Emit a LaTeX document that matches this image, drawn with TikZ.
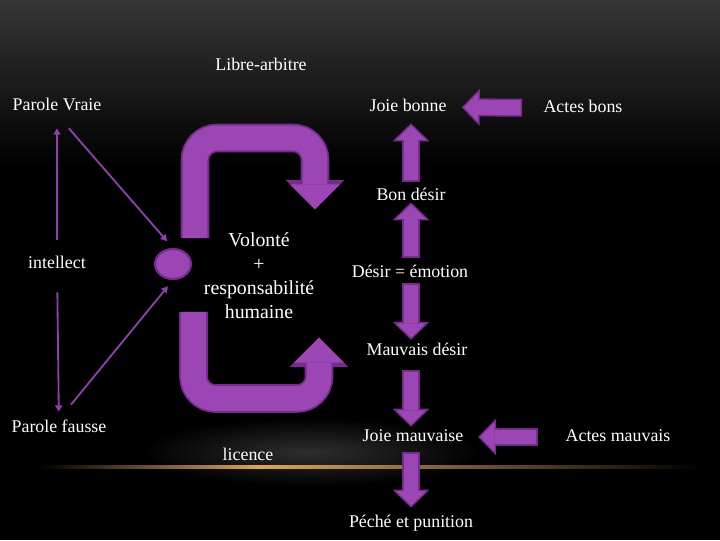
\documentclass[tikz,border=0pt]{standalone}
\usepackage{fontspec}
\setmainfont{Liberation Serif}
\newfontfamily\slidefont{Liberation Serif}
\usepackage{tikz}
\usetikzlibrary{
    calc,
    arrows.meta,
    shapes.geometric
}
\definecolor{purpfill}{RGB}{155,70,180}
\definecolor{purpedge}{RGB}{116,46,138}
\definecolor{purpline}{RGB}{140,66,168}
\definecolor{bgtop}{RGB}{54,54,54}
\definecolor{goldline}{RGB}{222,165,85}
\tikzset{
    % white slide labels
    lbl/.style={
        text=white,
        font=\slidefont\fontsize{12.7}{15}\selectfont,
        inner sep=0pt, text height=9pt, text depth=3pt
    },
    % thin arrow with a small head
    thinarrow/.style={
        draw=purpline, line width=1.3pt,
        -{Triangle[length=4.5pt 0 0, width=5pt 0 0]}
    },
    % fat arrow with a darker rim, #1 and #2 are the shortenings
    blockarrow/.style 2 args={
        preaction={
            draw=purpedge, line width=12.8pt,
            shorten <=#1, shorten >=#2,
            -{Triangle[length=12.8pt 0 0, width=26.3pt 0 0, line width=0pt 0 0]}
        },
        draw=purpfill, line width=10.6pt,
        shorten <=#1+1.1pt, shorten >=#2+1.53pt,
        -{Triangle[length=10.17pt 0 0, width=20.9pt 0 0, line width=0pt 0 0]}
    },
    % the two bent arrows round the will
    looparrow/.style={
        rounded corners=15.6pt,
        preaction={
            draw=purpedge, line width=20.3pt,
            -{Triangle[length=21pt 0 0, width=42pt 0 0, line width=0pt 0 0]}
        },
        draw=purpfill, line width=17.7pt,
        shorten <=1.3pt, shorten >=1.84pt,
        -{Triangle[length=17.86pt 0 0, width=35.7pt 0 0, line width=0pt 0 0]}
    }
}

\begin{document}
\begin{tikzpicture}[x=0.025cm, y=-0.025cm]
    \useasboundingbox (0,0) rectangle (720,540);
    % background
    \fill[black] (0,0) rectangle (720,540);
    \shade[top color=bgtop, bottom color=black] (0,0) rectangle (720,165);
    \shade[inner color=gray!36!black, outer color=black] (310,452) ellipse (170 and 34);
    \shade[left color=black, right color=goldline] (40,465.5) rectangle (260,468.5);
    \shade[left color=goldline, right color=black] (260,465.5) rectangle (700,468.5);

    \node (libre) at (261,66)[lbl]{Libre-arbitre};
    \node (vraie) at (57,106)[lbl]{Parole Vraie};
    \node (intellect) at (57,264)[lbl]{intellect};
    \node (fausse) at (59,428)[lbl]{Parole fausse};
    \node (licence) at (248,456)[lbl]{licence};
    \node (volonte) at (259,276)[text=white, align=center, inner sep=0pt,
        font=\slidefont\fontsize{14.1}{17}\selectfont]{Volonté\\+\\responsabilité\\humaine};
    \node (pivot) at (173,264)[ellipse, draw=purpedge, fill=purpfill, line width=1.5pt,
        minimum width=25.6pt, minimum height=21.3pt, inner sep=0pt]{};

    \node (joieb) at (408,107)[lbl]{Joie bonne};
    \node (actesb) at (583,108)[lbl]{Actes bons};
    \node (bon) at (411,196)[lbl]{Bon désir};
    \node (desir) at (410,273)[lbl]{Désir = émotion};
    \node (mauvais) at (417,351)[lbl]{Mauvais désir};
    \node (joiem) at (413,437)[lbl]{Joie mauvaise};
    \node (actesm) at (618,437)[lbl]{Actes mauvais};
    \node (peche) at (411,523)[lbl]{Péché et punition};

    \coordinate (topstart) at (195,240);
    \coordinate (topbend) at (315,138);
    \coordinate (topend) at (315,212);
    \coordinate (botstart) at (193.5,310);
    \coordinate (botbend) at (319,398.5);
    \coordinate (botend) at (319,335);
    \draw[looparrow] (topstart) |- (topbend) -- (topend);
    \draw[looparrow] (botstart) |- (botbend) -- (botend);

    \begin{scope}[thinarrow]
        \draw[shorten <=11pt, shorten >=9.7pt] (intellect) -- (vraie);
        \draw[shorten <=14pt, shorten >=5.4pt] (intellect) -- (fausse);
        \draw[shorten <=12.8pt, shorten >=6.4pt] (vraie.south) -- (pivot.north);
        \draw[shorten <=13.5pt, shorten >=5.7pt] (fausse.north) -- (pivot.south);
    \end{scope}

    \draw[blockarrow={15pt}{10.7pt}] (actesb) -- (joieb);
    \draw[blockarrow={4pt}{5.4pt}] (bon.north) -- (bon |- joieb.south);
    \draw[blockarrow={4.7pt}{-1.7pt}] (desir.north -| bon) -- (bon.south);
    \draw[blockarrow={1.1pt}{1.8pt}] (desir.south -| bon) -- (mauvais.north -| bon);
    \draw[blockarrow={7.5pt}{1.1pt}] (mauvais.south -| bon) -- (joiem.north -| bon);
    \draw[blockarrow={4.7pt}{4.7pt}] (joiem.south -| bon) -- (peche.north -| bon);
    \draw[blockarrow={19.6pt}{10.3pt}] (actesm) -- (joiem);
\end{tikzpicture}
\end{document}
